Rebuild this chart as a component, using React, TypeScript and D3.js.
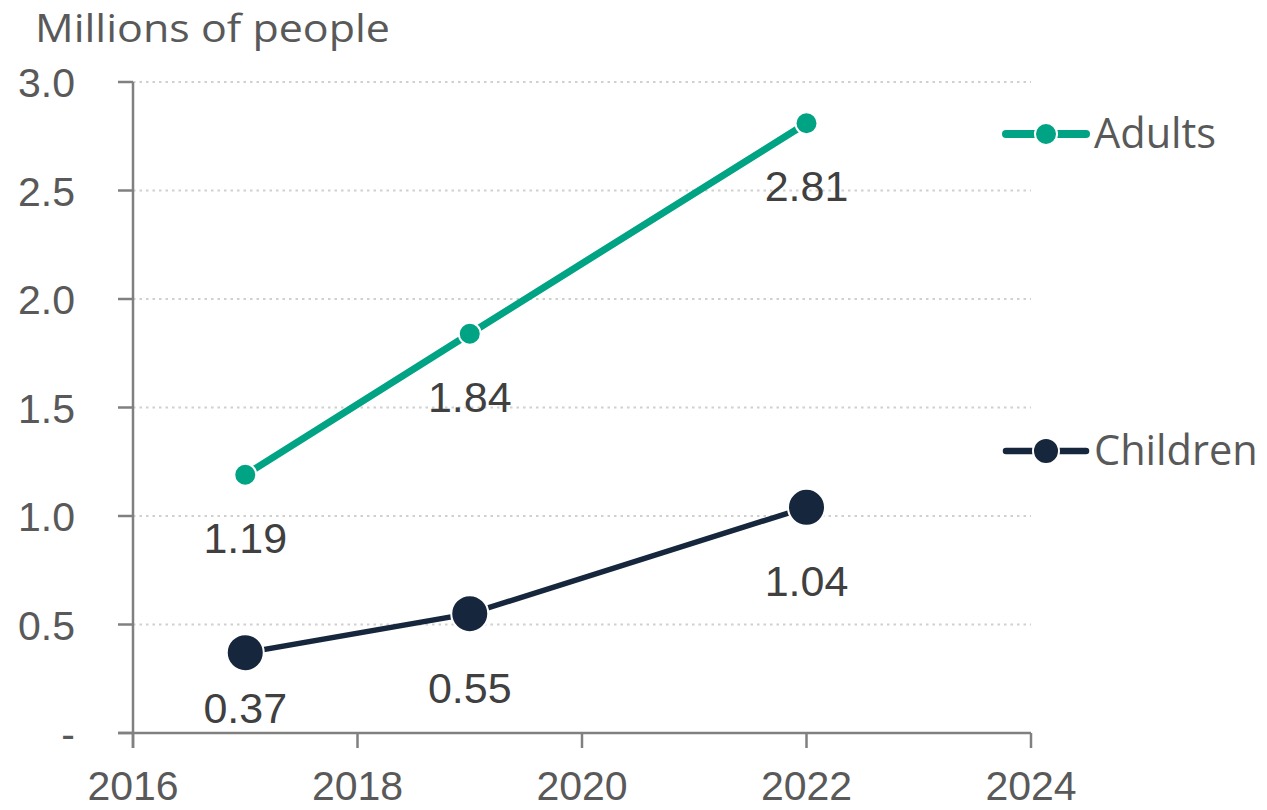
import React from "react";
import * as d3 from "d3";

const years = [2017, 2019, 2022];
const adults = [1.19, 1.84, 2.81];
const children = [0.37, 0.55, 1.04];
const xTicks = [2016, 2018, 2020, 2022, 2024];
const yTicks = [0, 0.5, 1, 1.5, 2, 2.5, 3];
const yTickLabels = ["-", "0.5", "1.0", "1.5", "2.0", "2.5", "3.0"];
const seriesNames = ["Adults", "Children"];
const seriesColors = ["#00A383", "#16263D"];

export default function App() {
  const W = 1267, H = 810;
  const left = 133, right = 1031, top = 82, bottom = 733;
  const x = d3.scaleLinear().domain([2016, 2024]).range([left, right]);
  const y = d3.scaleLinear().domain([0, 3]).range([bottom, top]);
  const line = d3.line<[number, number]>().x(d => x(d[0])).y(d => y(d[1]));
  const series = [
    { name: seriesNames[0], color: seriesColors[0], values: adults, r: 11, w: 7, off: 78, legY: 134, legR: 11 },
    { name: seriesNames[1], color: seriesColors[1], values: children, r: 18.5, w: 5.5, off: 89, legY: 451, legR: 13 },
  ];
  const axisColor = "#808080";
  const txt = "#595959";
  const arial = "'Liberation Sans', Arial, sans-serif";
  const cal = "'Open Sans', 'Noto Sans', sans-serif";
  return (
    <svg width={W} height={H} style={{ position: "absolute", left: 0, top: 0, background: "#fff" }}>
      <text x={35} y={42} fontFamily={cal} fontSize={38} fill={txt} textLength={355} lengthAdjust="spacingAndGlyphs">Millions of people</text>
      {yTicks.map((t, i) => (
        <g key={"y" + i}>
          {t > 0 && (
            <line x1={left} x2={right} y1={y(t)} y2={y(t)} stroke="#d0d0d0" strokeWidth={2} strokeDasharray="2.5 4" />
          )}
          <line x1={left - 15} x2={left} y1={y(t)} y2={y(t)} stroke={axisColor} strokeWidth={2.5} />
          <text x={75} y={y(t) + 15} textAnchor="end" fontFamily={arial} fontSize={41} fill={txt}>{yTickLabels[i]}</text>
        </g>
      ))}
      <line x1={left} x2={left} y1={top} y2={bottom + 15} stroke={axisColor} strokeWidth={2.5} />
      <line x1={left - 15} x2={right} y1={bottom} y2={bottom} stroke={axisColor} strokeWidth={2.5} />
      {xTicks.map((t) => (
        <g key={"x" + t}>
          <line x1={x(t)} x2={x(t)} y1={bottom} y2={bottom + 15} stroke={axisColor} strokeWidth={2.5} />
          <text x={x(t)} y={800} textAnchor="middle" fontFamily={arial} fontSize={41} fill={txt}>{t}</text>
        </g>
      ))}
      {series.map((s) => {
        const pts = years.map((yr, i) => [yr, s.values[i]] as [number, number]);
        return (
          <g key={s.name}>
            <path d={line(pts) || ""} fill="none" stroke={s.color} strokeWidth={s.w} />
            {pts.map((p, i) => (
              <circle key={i} cx={x(p[0])} cy={y(p[1])} r={s.r} fill={s.color} stroke="#fff" strokeWidth={2} />
            ))}
            {pts.map((p, i) => (
              <text key={"l" + i} x={x(p[0])} y={Math.min(y(p[1]) + s.off, bottom - 10)} textAnchor="middle"
                fontFamily={arial} fontSize={43} fill="#404040">{s.values[i].toFixed(2)}</text>
            ))}
            <line x1={1006} x2={1086} y1={s.legY} y2={s.legY} stroke={s.color} strokeWidth={s.w + 1} strokeLinecap="round" />
            <circle cx={1046} cy={s.legY} r={s.legR} fill={s.color} stroke="#fff" strokeWidth={2} />
            <text x={1094} y={s.legY + 14} fontFamily={cal} fontSize={41.5} fill={txt}>{s.name}</text>
          </g>
        );
      })}
    </svg>
  );
}
